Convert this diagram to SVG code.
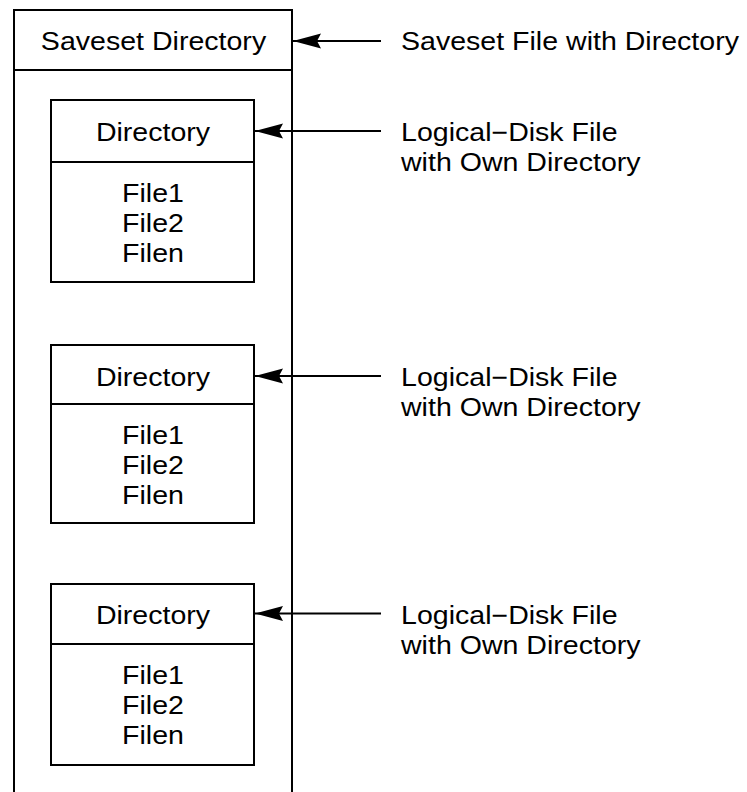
<svg xmlns="http://www.w3.org/2000/svg" width="747" height="792" viewBox="0 0 747 792">
<style>
  .box { fill: #ffffff; stroke: #000000; stroke-width: 2; }
  .ln { fill: none; stroke: #000000; stroke-width: 2; }
  .t { font-family: "Liberation Sans", Arial, Helvetica, sans-serif; font-size: 25.5px; fill: #000000; }
  .c { text-anchor: middle; }
  .l { text-anchor: start; }
</style>
<defs>
  <marker id="ah" markerUnits="userSpaceOnUse" viewBox="-30 -9 32 18" markerWidth="32" markerHeight="18" refX="0" refY="0" orient="auto">
    <path d="M0,0 L-28,-7.5 L-24,0 L-28,7.5 Z" fill="#000000"/>
  </marker>
</defs>
<rect width="747" height="792" fill="#ffffff"/>

<g id="saveset">
  <path class="ln" d="M14,800 V10 H292 V800"/>
  <line class="ln" x1="14" y1="70" x2="292" y2="70"/>
  <text class="t c" transform="translate(153.5 49.5) scale(1.12 1)">Saveset Directory</text>
</g>

<g id="disk1">
  <rect class="box" x="51" y="100" width="203" height="182"/>
  <line class="ln" x1="51" y1="162" x2="254" y2="162"/>
  <text class="t c" transform="translate(153 141) scale(1.12 1)">Directory</text>
  <text class="t c" transform="translate(153 202) scale(1.12 1)">File1</text>
  <text class="t c" transform="translate(153 232) scale(1.12 1)">File2</text>
  <text class="t c" transform="translate(153 262) scale(1.12 1)">Filen</text>
</g>

<g id="disk2">
  <rect class="box" x="51" y="345" width="203" height="178"/>
  <line class="ln" x1="51" y1="404" x2="254" y2="404"/>
  <text class="t c" transform="translate(153 385.5) scale(1.12 1)">Directory</text>
  <text class="t c" transform="translate(153 444) scale(1.12 1)">File1</text>
  <text class="t c" transform="translate(153 474) scale(1.12 1)">File2</text>
  <text class="t c" transform="translate(153 504) scale(1.12 1)">Filen</text>
</g>

<g id="disk3">
  <rect class="box" x="51" y="584" width="203" height="181"/>
  <line class="ln" x1="51" y1="644" x2="254" y2="644"/>
  <text class="t c" transform="translate(153 624) scale(1.12 1)">Directory</text>
  <text class="t c" transform="translate(153 684) scale(1.12 1)">File1</text>
  <text class="t c" transform="translate(153 714) scale(1.12 1)">File2</text>
  <text class="t c" transform="translate(153 744) scale(1.12 1)">Filen</text>
</g>

<g id="connectors">
  <line class="ln" x1="381" y1="41" x2="293" y2="41" marker-end="url(#ah)"/>
  <line class="ln" x1="381" y1="131" x2="255" y2="131" marker-end="url(#ah)"/>
  <line class="ln" x1="381" y1="376" x2="255" y2="376" marker-end="url(#ah)"/>
  <line class="ln" x1="381" y1="613.5" x2="255" y2="613.5" marker-end="url(#ah)"/>
</g>

<g id="labels">
  <text class="t l" transform="translate(401 50) scale(1.12 1)">Saveset File with Directory</text>
  <text class="t l" transform="translate(401 141) scale(1.12 1)">Logical−Disk File</text>
  <text class="t l" transform="translate(401 171) scale(1.12 1)">with Own Directory</text>
  <text class="t l" transform="translate(401 386) scale(1.12 1)">Logical−Disk File</text>
  <text class="t l" transform="translate(401 416) scale(1.12 1)">with Own Directory</text>
  <text class="t l" transform="translate(401 623.5) scale(1.12 1)">Logical−Disk File</text>
  <text class="t l" transform="translate(401 653.5) scale(1.12 1)">with Own Directory</text>
</g>
</svg>
